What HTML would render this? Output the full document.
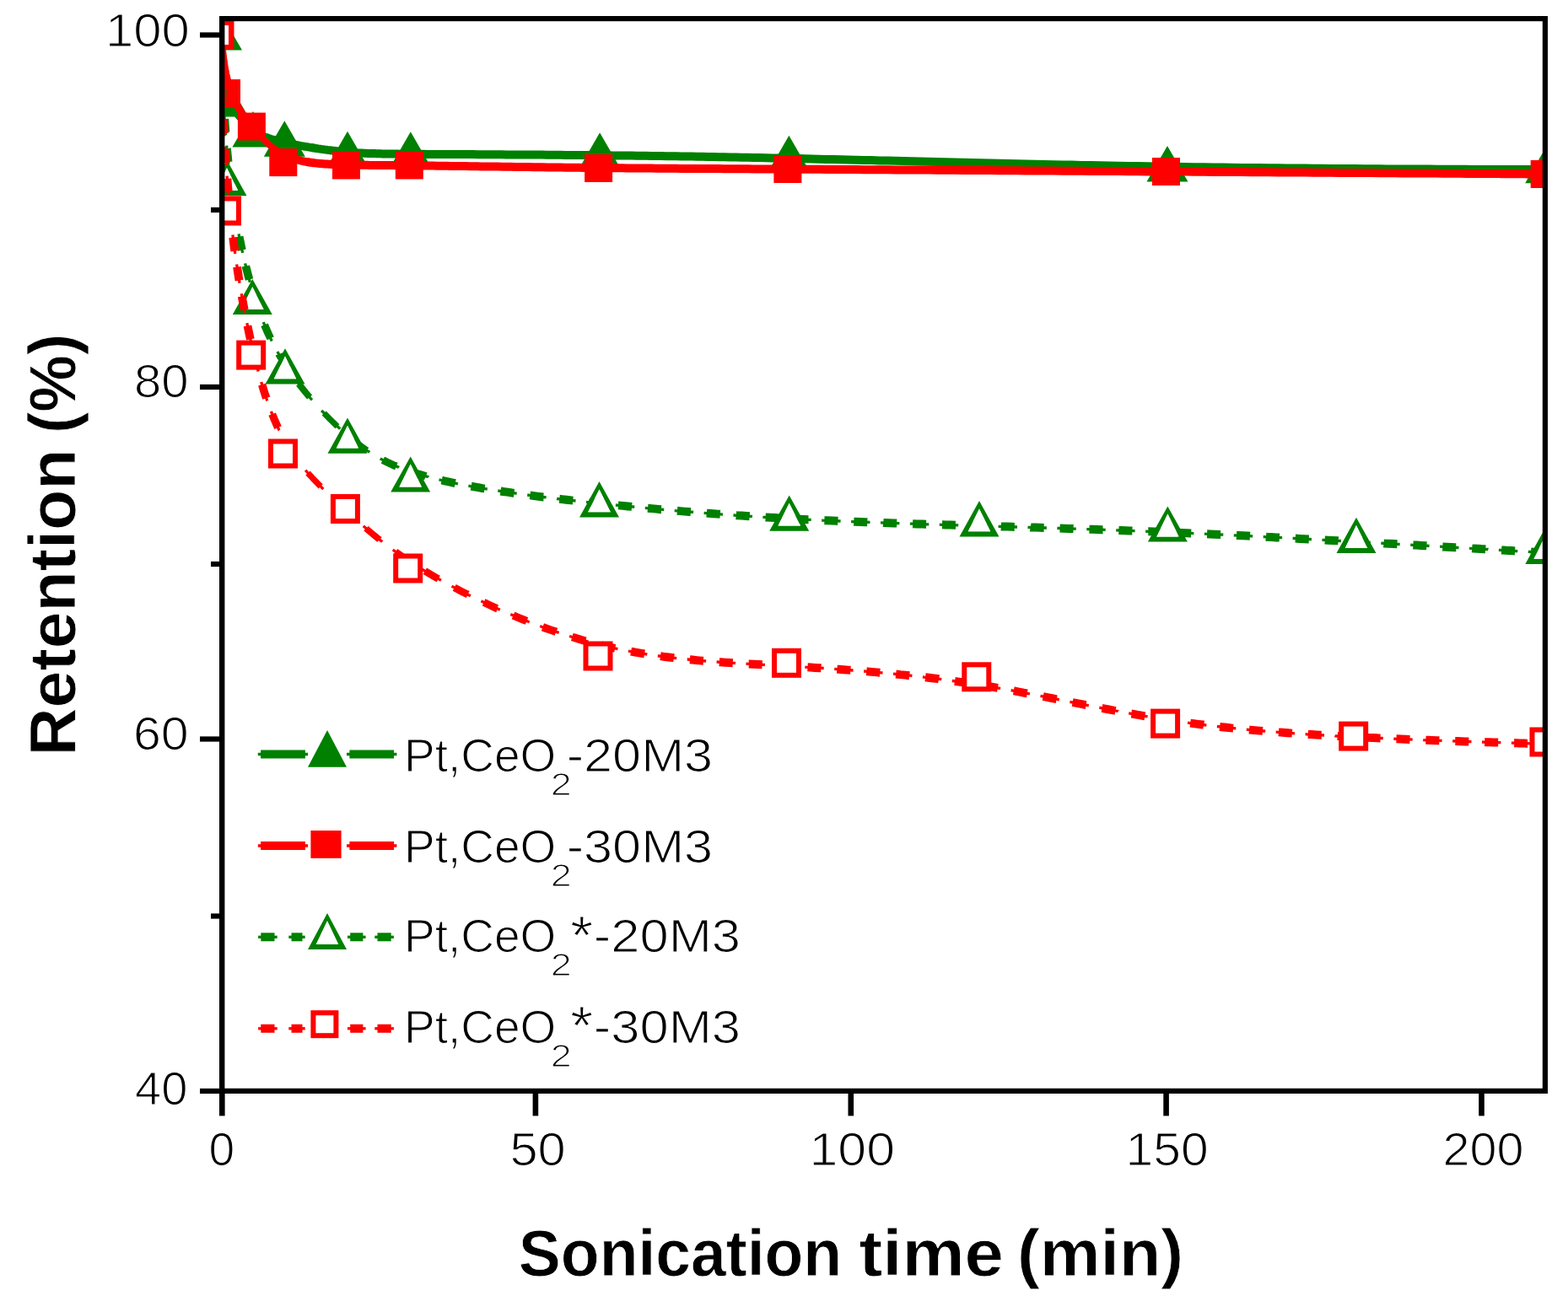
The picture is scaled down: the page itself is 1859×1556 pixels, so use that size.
<!DOCTYPE html>
<html><head><meta charset="utf-8"><title>Retention vs sonication time</title>
<style>
html,body{margin:0;padding:0;background:#fff;}
svg{display:block;}
text{font-family:"Liberation Sans",Arial,sans-serif;fill:#000;stroke:#fff;stroke-width:1.2px;}
.b{font-weight:bold;stroke-width:0.8px;}
</style></head><body>
<svg width="1859" height="1556" viewBox="0 0 1859 1556">
<rect width="1859" height="1556" fill="#fff"/>
<defs><clipPath id="pa"><rect x="263.2" y="22" width="1568.7" height="1271.9"/></clipPath></defs>
<g clip-path="url(#pa)">
<path d="M261.0,43.6L261.0,43.7L261.0,43.7L261.0,43.8L261.0,43.9L261.0,44.0L261.0,44.1L261.1,44.2L261.1,44.3L261.1,44.4L261.1,44.6L261.1,44.8L261.1,45.0L261.2,45.2L261.2,45.5L261.2,45.8L261.2,46.1L261.3,46.4L261.3,46.8L261.3,47.2L261.4,47.6L261.4,48.1L261.5,48.6L261.5,49.1L261.6,49.7L261.6,50.3L261.7,51.0L261.8,51.7L261.8,52.4L261.9,53.2L262.0,54.0L262.1,54.9L262.2,55.8L262.2,56.8L262.3,57.8L262.4,58.8L262.5,59.9L262.7,61.1L262.8,62.3L262.9,63.5L263.0,64.8L263.2,66.1L263.3,67.4L263.5,68.8L263.6,70.2L263.8,71.6L263.9,73.0L264.1,74.5L264.3,76.0L264.5,77.5L264.7,79.1L264.9,80.6L265.1,82.2L265.4,83.8L265.6,85.4L265.8,87.0" stroke="#008000" stroke-width="10.00" stroke-linecap="round" stroke-linejoin="round" fill="none"/><path d="M265.8,87.0L266.1,88.6L266.4,90.2L266.7,91.9L266.9,93.5L267.2,95.1L267.5,96.7L267.9,98.3L268.2,100.0L268.5,101.6L268.9,103.2L269.3,104.7L269.7,106.3L270.0,107.9L270.5,109.4L270.9,110.9" stroke="#008000" stroke-width="9.75" stroke-linecap="round" stroke-linejoin="round" fill="none"/><path d="M270.9,110.9L271.3,112.4L271.8,113.9L272.2,115.3L272.7,116.8L273.2,118.1L273.7,119.5" stroke="#008000" stroke-width="9.50" stroke-linecap="round" stroke-linejoin="round" fill="none"/><path d="M273.7,119.5L274.2,120.9L274.7,122.2L275.3,123.5L275.8,124.7" stroke="#008000" stroke-width="9.25" stroke-linecap="round" stroke-linejoin="round" fill="none"/><path d="M275.8,124.7L276.4,126.0L277.0,127.2L277.6,128.4L278.2,129.6" stroke="#008000" stroke-width="9.00" stroke-linecap="round" stroke-linejoin="round" fill="none"/><path d="M278.2,129.6L278.8,130.7L279.4,131.8L280.0,132.9" stroke="#008000" stroke-width="8.75" stroke-linecap="round" stroke-linejoin="round" fill="none"/><path d="M280.0,132.9L280.7,134.0L281.3,135.1L282.0,136.1" stroke="#008000" stroke-width="8.50" stroke-linecap="round" stroke-linejoin="round" fill="none"/><path d="M282.0,136.1L282.7,137.1L283.4,138.1" stroke="#008000" stroke-width="8.25" stroke-linecap="round" stroke-linejoin="round" fill="none"/><path d="M283.4,138.1L284.1,139.0L284.8,140.0L285.5,140.9" stroke="#008000" stroke-width="8.00" stroke-linecap="round" stroke-linejoin="round" fill="none"/><path d="M285.5,140.9L286.2,141.8L286.9,142.7" stroke="#008000" stroke-width="7.75" stroke-linecap="round" stroke-linejoin="round" fill="none"/><path d="M286.9,142.7L287.7,143.6L288.4,144.4" stroke="#008000" stroke-width="7.50" stroke-linecap="round" stroke-linejoin="round" fill="none"/><path d="M288.4,144.4L289.2,145.2L289.9,146.0L290.7,146.8" stroke="#008000" stroke-width="7.25" stroke-linecap="round" stroke-linejoin="round" fill="none"/><path d="M290.7,146.8L291.5,147.6" stroke="#008000" stroke-width="7.00" stroke-linecap="round" stroke-linejoin="round" fill="none"/><path d="M291.5,147.6L292.3,148.3L293.1,149.1" stroke="#008000" stroke-width="7.25" stroke-linecap="round" stroke-linejoin="round" fill="none"/><path d="M293.1,149.1L293.9,149.8L294.7,150.5" stroke="#008000" stroke-width="7.50" stroke-linecap="round" stroke-linejoin="round" fill="none"/><path d="M294.7,150.5L295.5,151.2L296.3,151.8L297.1,152.5" stroke="#008000" stroke-width="7.75" stroke-linecap="round" stroke-linejoin="round" fill="none"/><path d="M297.1,152.5L298.0,153.1L298.8,153.7" stroke="#008000" stroke-width="8.00" stroke-linecap="round" stroke-linejoin="round" fill="none"/><path d="M298.8,153.7L299.6,154.3L300.5,154.9L301.3,155.5" stroke="#008000" stroke-width="8.25" stroke-linecap="round" stroke-linejoin="round" fill="none"/><path d="M301.3,155.5L302.2,156.0L303.0,156.6L303.9,157.1L304.8,157.6" stroke="#008000" stroke-width="8.50" stroke-linecap="round" stroke-linejoin="round" fill="none"/><path d="M304.8,157.6L305.7,158.1L306.5,158.6L307.4,159.1" stroke="#008000" stroke-width="8.75" stroke-linecap="round" stroke-linejoin="round" fill="none"/><path d="M307.4,159.1L308.4,159.5L309.3,160.0L310.2,160.4L311.1,160.9" stroke="#008000" stroke-width="9.00" stroke-linecap="round" stroke-linejoin="round" fill="none"/><path d="M311.1,160.9L312.1,161.3L313.0,161.7L314.0,162.1L315.0,162.5L316.0,162.9L317.0,163.2" stroke="#008000" stroke-width="9.25" stroke-linecap="round" stroke-linejoin="round" fill="none"/><path d="M317.0,163.2L318.0,163.6L319.0,164.0L320.1,164.3L321.2,164.7L322.2,165.0L323.3,165.4L324.4,165.7L325.6,166.0" stroke="#008000" stroke-width="9.50" stroke-linecap="round" stroke-linejoin="round" fill="none"/><path d="M325.6,166.0L326.7,166.3L327.9,166.6L329.1,167.0L330.3,167.3L331.5,167.6L332.7,167.9L334.0,168.2L335.3,168.5L336.6,168.8L337.9,169.1L339.2,169.4L340.6,169.7L342.0,170.0L343.4,170.3L344.9,170.6L346.3,170.9L347.8,171.2L349.3,171.5L350.8,171.8L352.4,172.1L353.9,172.4L355.5,172.7L357.1,173.0L358.7,173.3L360.3,173.6L362.0,173.9L363.7,174.1L365.3,174.4L367.0,174.7L368.7,175.0L370.5,175.3" stroke="#008000" stroke-width="9.75" stroke-linecap="round" stroke-linejoin="round" fill="none"/><path d="M370.5,175.3L372.2,175.5L373.9,175.8L375.7,176.1L377.5,176.4L379.2,176.6L381.0,176.9L382.8,177.1L384.6,177.4L386.5,177.6L388.3,177.9L390.1,178.1L391.9,178.3L393.8,178.6L395.6,178.8L397.5,179.0L399.3,179.2L401.2,179.4L403.1,179.6L404.9,179.8L406.8,180.0L408.7,180.1L410.5,180.3L412.4,180.5L414.3,180.6L416.2,180.8L418.0,180.9L419.9,181.0L421.8,181.1L423.8,181.3L425.7,181.4L427.6,181.5L429.6,181.6L431.6,181.7L433.6,181.8L435.7,181.9L437.8,181.9L439.9,182.0L442.0,182.1L444.2,182.1L446.5,182.2L448.7,182.3L451.0,182.3L453.4,182.4L455.8,182.4L458.3,182.4L460.8,182.5L463.4,182.5L466.0,182.6L468.7,182.6L471.4,182.6L474.2,182.7L477.1,182.7L480.1,182.7L483.1,182.7L486.2,182.7L489.4,182.8L492.7,182.8L496.0,182.8L499.4,182.8L502.9,182.8L506.5,182.9L510.2,182.9L514.0,182.9L517.9,182.9L521.9,182.9L525.9,183.0L530.0,183.0L534.3,183.0L538.6,183.0L542.9,183.0L547.4,183.1L551.9,183.1L556.5,183.1L561.2,183.1L565.9,183.2L570.7,183.2L575.5,183.2L580.4,183.2L585.4,183.3L590.4,183.3L595.5,183.3L600.6,183.4L605.7,183.4L611.0,183.4L616.2,183.5L621.5,183.5L626.8,183.5L632.2,183.6L637.6,183.6L643.0,183.6L648.5,183.7L653.9,183.7L659.4,183.8L665.0,183.8L670.5,183.9L676.1,183.9L681.6,183.9L687.2,184.0L692.8,184.0L698.4,184.1L704.0,184.1L709.6,184.2L715.2,184.3L720.8,184.3L726.5,184.4L732.1,184.4L737.7,184.5L743.4,184.6L749.1,184.6L754.8,184.7L760.5,184.8L766.3,184.8L772.1,184.9L777.9,185.0L783.8,185.1L789.7,185.2L795.7,185.2L801.7,185.3L807.8,185.4L814.0,185.5L820.2,185.6L826.4,185.7L832.8,185.8L839.2,186.0L845.7,186.1L852.3,186.2L858.9,186.3L865.7,186.4L872.5,186.6L879.5,186.7L886.5,186.8L893.6,187.0L900.9,187.1L908.2,187.3L915.7,187.4L923.2,187.6L930.9,187.8L938.8,187.9L946.7,188.1L954.8,188.3L963.0,188.5L971.3,188.7L979.8,188.9L988.4,189.1L997.2,189.3L1006.0,189.5L1015.1,189.7L1024.2,189.9L1033.4,190.1L1042.8,190.4L1052.3,190.6L1061.9,190.8L1071.5,191.1L1081.3,191.3L1091.2,191.6L1101.2,191.8L1111.3,192.0L1121.5,192.3L1131.7,192.5L1142.0,192.8L1152.4,193.0L1162.9,193.3L1173.5,193.5L1184.1,193.8L1194.8,194.0L1205.5,194.2L1216.3,194.5L1227.1,194.7L1238.0,195.0L1249.0,195.2L1260.0,195.4L1271.0,195.6L1282.0,195.9L1293.1,196.1L1304.2,196.3L1315.4,196.5L1326.5,196.7L1337.7,196.9L1348.9,197.1L1360.1,197.3L1371.3,197.5L1382.5,197.7L1393.8,197.8L1405.0,198.0L1416.2,198.2L1427.3,198.3L1438.5,198.5L1449.6,198.6L1460.7,198.7L1471.7,198.9L1482.6,199.0L1493.5,199.1L1504.4,199.2L1515.1,199.3L1525.8,199.4L1536.4,199.5L1546.8,199.6L1557.2,199.7L1567.5,199.8L1577.6,199.9L1587.6,200.0L1597.5,200.0L1607.3,200.1L1616.9,200.2L1626.3,200.2L1635.6,200.3L1644.7,200.4L1653.6,200.4L1662.4,200.5L1670.9,200.5L1679.3,200.6L1687.5,200.6L1695.4,200.6L1703.2,200.7L1710.7,200.7L1718.0,200.7L1725.0,200.8L1731.8,200.8L1738.3,200.8L1744.6,200.9L1750.7,200.9L1756.4,200.9L1761.9,200.9L1767.1,200.9L1772.0,201.0L1776.7,201.0L1781.1,201.0L1785.3,201.0L1789.2,201.0L1792.9,201.0L1796.4,201.1L1799.6,201.1L1802.7,201.1L1805.5,201.1L1808.2,201.1L1810.6,201.1L1812.9,201.1L1815.0,201.1L1817.0,201.1L1818.7,201.2L1820.4,201.2L1821.8,201.2L1823.2,201.2L1824.4,201.2L1825.4,201.2L1826.4,201.2L1827.2,201.2L1828.0,201.2L1828.6,201.2L1829.2,201.2L1829.6,201.2L1830.0,201.2L1830.3,201.2L1830.6,201.2L1830.8,201.2L1830.9,201.2L1831.0,201.2L1831.1,201.2L1831.2,201.2" stroke="#008000" stroke-width="10.00" stroke-linecap="round" stroke-linejoin="round" fill="none"/>
<path d="M262.5,17.1L287.0,59.6L238.0,59.6Z" fill="#008000"/>
<path d="M270.0,96.0L294.5,138.5L245.5,138.5Z" fill="#008000"/>
<path d="M299.9,131.9L324.4,174.4L275.4,174.4Z" fill="#008000"/>
<path d="M337.3,143.3L361.8,185.8L312.8,185.8Z" fill="#008000"/>
<path d="M412.0,155.8L436.5,198.3L387.5,198.3Z" fill="#008000"/>
<path d="M486.8,156.3L511.3,198.8L462.3,198.8Z" fill="#008000"/>
<path d="M711.1,157.3L735.6,199.8L686.6,199.8Z" fill="#008000"/>
<path d="M935.4,160.7L959.9,203.2L910.9,203.2Z" fill="#008000"/>
<path d="M1384.0,172.9L1408.5,215.4L1359.5,215.4Z" fill="#008000"/>
<path d="M1832.7,174.7L1857.2,217.2L1808.2,217.2Z" fill="#008000"/>
<path d="M261.0,41.5L261.0,41.6L261.0,41.6L261.0,41.7L261.0,41.8L261.0,41.9L261.1,42.0L261.1,42.1L261.1,42.2L261.1,42.4L261.1,42.5L261.1,42.7L261.2,42.9L261.2,43.2L261.2,43.4L261.2,43.7L261.3,44.0L261.3,44.3L261.3,44.7L261.4,45.0L261.4,45.5L261.5,45.9L261.5,46.4L261.6,46.9L261.6,47.4L261.7,48.0L261.8,48.6L261.8,49.2L261.9,49.9L262.0,50.6L262.1,51.4L262.2,52.2L262.2,53.0L262.3,53.9L262.4,54.8L262.5,55.8L262.7,56.8L262.8,57.8L262.9,58.9L263.0,60.0L263.2,61.2L263.3,62.4L263.5,63.6L263.6,64.8L263.8,66.0L263.9,67.3L264.1,68.6L264.3,70.0L264.5,71.3L264.7,72.7L264.9,74.1L265.1,75.5" stroke="#ff0000" stroke-width="10.00" stroke-linecap="round" stroke-linejoin="round" fill="none"/><path d="M265.1,75.5L265.4,76.9L265.6,78.3L265.8,79.7L266.1,81.2L266.4,82.6L266.7,84.1L266.9,85.6L267.2,87.0L267.5,88.5L267.9,90.0L268.2,91.4L268.5,92.9L268.9,94.3L269.3,95.8L269.7,97.2L270.0,98.7" stroke="#ff0000" stroke-width="9.75" stroke-linecap="round" stroke-linejoin="round" fill="none"/><path d="M270.0,98.7L270.5,100.1L270.9,101.5L271.3,102.9L271.8,104.3L272.2,105.7L272.7,107.0L273.2,108.3" stroke="#ff0000" stroke-width="9.50" stroke-linecap="round" stroke-linejoin="round" fill="none"/><path d="M273.2,108.3L273.7,109.7L274.2,111.0L274.7,112.2L275.3,113.5L275.8,114.7" stroke="#ff0000" stroke-width="9.25" stroke-linecap="round" stroke-linejoin="round" fill="none"/><path d="M275.8,114.7L276.4,116.0L277.0,117.2L277.6,118.4L278.2,119.6" stroke="#ff0000" stroke-width="9.00" stroke-linecap="round" stroke-linejoin="round" fill="none"/><path d="M278.2,119.6L278.8,120.8L279.4,121.9L280.0,123.1L280.7,124.2L281.3,125.4" stroke="#ff0000" stroke-width="8.75" stroke-linecap="round" stroke-linejoin="round" fill="none"/><path d="M281.3,125.4L282.0,126.5L282.7,127.6L283.4,128.7L284.1,129.8L284.8,130.9" stroke="#ff0000" stroke-width="8.50" stroke-linecap="round" stroke-linejoin="round" fill="none"/><path d="M284.8,130.9L285.5,132.0L286.2,133.0L286.9,134.1L287.7,135.1L288.4,136.2" stroke="#ff0000" stroke-width="8.25" stroke-linecap="round" stroke-linejoin="round" fill="none"/><path d="M288.4,136.2L289.2,137.2L289.9,138.3L290.7,139.3L291.5,140.4L292.3,141.4L293.1,142.4L293.9,143.4" stroke="#ff0000" stroke-width="8.00" stroke-linecap="round" stroke-linejoin="round" fill="none"/><path d="M293.9,143.4L294.7,144.5L295.5,145.5L296.3,146.5L297.1,147.5L298.0,148.6L298.8,149.6L299.6,150.6L300.5,151.6L301.3,152.7L302.2,153.7L303.0,154.7L303.9,155.7" stroke="#ff0000" stroke-width="7.75" stroke-linecap="round" stroke-linejoin="round" fill="none"/><path d="M303.9,155.7L304.8,156.8L305.7,157.8L306.5,158.8L307.4,159.8L308.4,160.8L309.3,161.8" stroke="#ff0000" stroke-width="7.50" stroke-linecap="round" stroke-linejoin="round" fill="none"/><path d="M309.3,161.8L310.2,162.8L311.1,163.8L312.1,164.8L313.0,165.8" stroke="#ff0000" stroke-width="7.25" stroke-linecap="round" stroke-linejoin="round" fill="none"/><path d="M313.0,165.8L314.0,166.8" stroke="#ff0000" stroke-width="7.00" stroke-linecap="round" stroke-linejoin="round" fill="none"/><path d="M314.0,166.8L315.0,167.8L316.0,168.7L317.0,169.7L318.0,170.6" stroke="#ff0000" stroke-width="7.25" stroke-linecap="round" stroke-linejoin="round" fill="none"/><path d="M318.0,170.6L319.0,171.5L320.1,172.4" stroke="#ff0000" stroke-width="7.50" stroke-linecap="round" stroke-linejoin="round" fill="none"/><path d="M320.1,172.4L321.2,173.3L322.2,174.2L323.3,175.1" stroke="#ff0000" stroke-width="7.75" stroke-linecap="round" stroke-linejoin="round" fill="none"/><path d="M323.3,175.1L324.4,176.0L325.6,176.8L326.7,177.6" stroke="#ff0000" stroke-width="8.00" stroke-linecap="round" stroke-linejoin="round" fill="none"/><path d="M326.7,177.6L327.9,178.4L329.1,179.2" stroke="#ff0000" stroke-width="8.25" stroke-linecap="round" stroke-linejoin="round" fill="none"/><path d="M329.1,179.2L330.3,180.0L331.5,180.8L332.7,181.5" stroke="#ff0000" stroke-width="8.50" stroke-linecap="round" stroke-linejoin="round" fill="none"/><path d="M332.7,181.5L334.0,182.2L335.3,182.9L336.6,183.6" stroke="#ff0000" stroke-width="8.75" stroke-linecap="round" stroke-linejoin="round" fill="none"/><path d="M336.6,183.6L337.9,184.3L339.2,184.9" stroke="#ff0000" stroke-width="9.00" stroke-linecap="round" stroke-linejoin="round" fill="none"/><path d="M339.2,184.9L340.6,185.5L342.0,186.1L343.4,186.6L344.9,187.2" stroke="#ff0000" stroke-width="9.25" stroke-linecap="round" stroke-linejoin="round" fill="none"/><path d="M344.9,187.2L346.3,187.7L347.8,188.2L349.3,188.7L350.8,189.1" stroke="#ff0000" stroke-width="9.50" stroke-linecap="round" stroke-linejoin="round" fill="none"/><path d="M350.8,189.1L352.4,189.5L353.9,189.9L355.5,190.3L357.1,190.7L358.7,191.0L360.3,191.4L362.0,191.7L363.7,192.0L365.3,192.3" stroke="#ff0000" stroke-width="9.75" stroke-linecap="round" stroke-linejoin="round" fill="none"/><path d="M365.3,192.3L367.0,192.5L368.7,192.8L370.5,193.0L372.2,193.2L373.9,193.4L375.7,193.6L377.5,193.8L379.2,193.9L381.0,194.1L382.8,194.2L384.6,194.4L386.5,194.5L388.3,194.6L390.1,194.7L391.9,194.8L393.8,194.9L395.6,195.0L397.5,195.1L399.3,195.1L401.2,195.2L403.1,195.2L404.9,195.3L406.8,195.3L408.7,195.4L410.5,195.4L412.4,195.5L414.3,195.5L416.2,195.6L418.0,195.6L419.9,195.6L421.8,195.7L423.8,195.7L425.7,195.7L427.6,195.7L429.6,195.8L431.6,195.8L433.6,195.8L435.7,195.8L437.8,195.9L439.9,195.9L442.0,195.9L444.2,195.9L446.5,196.0L448.7,196.0L451.0,196.0L453.4,196.0L455.8,196.0L458.3,196.1L460.8,196.1L463.4,196.1L466.0,196.1L468.7,196.2L471.4,196.2L474.2,196.2L477.1,196.2L480.1,196.3L483.1,196.3L486.2,196.3L489.4,196.4L492.7,196.4L496.0,196.4L499.4,196.5L502.9,196.5L506.5,196.5L510.2,196.6L514.0,196.6L517.9,196.7L521.9,196.7L525.9,196.8L530.0,196.8L534.3,196.9L538.6,196.9L542.9,197.0L547.4,197.1L551.9,197.1L556.5,197.2L561.2,197.2L565.9,197.3L570.7,197.4L575.5,197.4L580.4,197.5L585.4,197.6L590.4,197.6L595.5,197.7L600.6,197.8L605.7,197.8L611.0,197.9L616.2,198.0L621.5,198.0L626.8,198.1L632.2,198.2L637.6,198.3L643.0,198.3L648.5,198.4L653.9,198.5L659.4,198.5L665.0,198.6L670.5,198.7L676.1,198.7L681.6,198.8L687.2,198.8L692.8,198.9L698.4,199.0L704.0,199.0L709.6,199.1L715.2,199.1L720.8,199.2L726.5,199.2L732.1,199.3L737.7,199.3L743.4,199.4L749.1,199.4L754.8,199.5L760.5,199.5L766.3,199.6L772.1,199.6L777.9,199.7L783.8,199.7L789.7,199.7L795.7,199.8L801.7,199.8L807.8,199.9L814.0,199.9L820.2,200.0L826.4,200.0L832.8,200.0L839.2,200.1L845.7,200.1L852.3,200.1L858.9,200.2L865.7,200.2L872.5,200.3L879.5,200.3L886.5,200.3L893.6,200.4L900.9,200.4L908.2,200.5L915.7,200.5L923.2,200.6L930.9,200.6L938.8,200.6L946.7,200.7L954.8,200.7L963.0,200.8L971.3,200.8L979.8,200.9L988.4,200.9L997.2,201.0L1006.0,201.0L1015.1,201.1L1024.2,201.2L1033.4,201.2L1042.8,201.3L1052.3,201.3L1061.9,201.4L1071.5,201.5L1081.3,201.5L1091.2,201.6L1101.2,201.6L1111.3,201.7L1121.5,201.8L1131.7,201.8L1142.0,201.9L1152.4,202.0L1162.9,202.0L1173.5,202.1L1184.1,202.2L1194.8,202.3L1205.5,202.3L1216.3,202.4L1227.1,202.5L1238.0,202.5L1249.0,202.6L1260.0,202.7L1271.0,202.8L1282.0,202.8L1293.1,202.9L1304.2,203.0L1315.4,203.1L1326.5,203.1L1337.7,203.2L1348.9,203.3L1360.1,203.4L1371.3,203.4L1382.5,203.5L1393.8,203.6L1405.0,203.6L1416.2,203.7L1427.3,203.8L1438.5,203.9L1449.6,203.9L1460.7,204.0L1471.7,204.1L1482.6,204.2L1493.5,204.2L1504.4,204.3L1515.1,204.4L1525.8,204.5L1536.4,204.5L1546.8,204.6L1557.2,204.7L1567.5,204.7L1577.6,204.8L1587.6,204.9L1597.5,204.9L1607.3,205.0L1616.9,205.1L1626.3,205.1L1635.6,205.2L1644.7,205.3L1653.6,205.3L1662.4,205.4L1670.9,205.4L1679.3,205.5L1687.5,205.5L1695.4,205.6L1703.2,205.6L1710.7,205.7L1718.0,205.7L1725.0,205.8L1731.8,205.8L1738.3,205.9L1744.6,205.9L1750.7,206.0L1756.4,206.0L1761.9,206.0L1767.1,206.1L1772.0,206.1L1776.7,206.1L1781.1,206.2L1785.3,206.2L1789.2,206.2L1792.9,206.2L1796.4,206.3L1799.6,206.3L1802.7,206.3L1805.5,206.3L1808.2,206.3L1810.6,206.4L1812.9,206.4L1815.0,206.4L1817.0,206.4L1818.7,206.4L1820.4,206.4L1821.8,206.4L1823.2,206.4L1824.4,206.5L1825.4,206.5L1826.4,206.5L1827.2,206.5L1828.0,206.5L1828.6,206.5L1829.2,206.5L1829.6,206.5L1830.0,206.5L1830.3,206.5L1830.6,206.5L1830.8,206.5L1830.9,206.5L1831.0,206.5L1831.1,206.5L1831.2,206.5" stroke="#ff0000" stroke-width="10.00" stroke-linecap="round" stroke-linejoin="round" fill="none"/>
<rect x="244.5" y="25.0" width="33" height="33" fill="#ff0000"/>
<rect x="252.0" y="94.1" width="33" height="33" fill="#ff0000"/>
<rect x="281.9" y="133.6" width="33" height="33" fill="#ff0000"/>
<rect x="319.3" y="176.1" width="33" height="33" fill="#ff0000"/>
<rect x="394.0" y="179.5" width="33" height="33" fill="#ff0000"/>
<rect x="468.8" y="179.5" width="33" height="33" fill="#ff0000"/>
<rect x="693.1" y="183.0" width="33" height="33" fill="#ff0000"/>
<rect x="917.4" y="184.0" width="33" height="33" fill="#ff0000"/>
<rect x="1366.0" y="187.0" width="33" height="33" fill="#ff0000"/>
<rect x="1814.7" y="190.0" width="33" height="33" fill="#ff0000"/>
<path d="M262.3,71.2L262.4,73.2L262.5,75.5L262.7,78.0L262.8,80.6L262.9,83.3L263.0,86.0L263.1,87.2" stroke="#008000" stroke-width="9.99" fill="none"/><path d="M262.2,68.0L262.2,68.8L262.3,70.9L262.4,73.2L262.5,75.5L262.7,78.0L262.8,80.6L262.9,83.3L263.0,86.0L263.2,88.9L263.2,90.4" stroke="#008000" stroke-width="3.30" fill="none"/><path d="M264.1,106.1L264.1,107.7L264.3,111.1L264.5,114.6L264.7,118.1L264.9,121.7L265.0,122.1" stroke="#008000" stroke-width="9.98" fill="none"/><path d="M263.9,102.9L264.0,104.4L264.1,107.7L264.3,111.1L264.5,114.6L264.7,118.1L264.9,121.7L265.2,125.3L265.2,125.3" stroke="#008000" stroke-width="3.30" fill="none"/><path d="M266.2,141.0L266.4,144.1L266.7,148.0L267.0,151.9L267.3,155.9L267.4,157.0" stroke="#008000" stroke-width="9.97" fill="none"/><path d="M266.0,137.8L266.1,140.3L266.4,144.1L266.7,148.0L267.0,151.9L267.3,155.9L267.6,159.8L267.6,160.2" stroke="#008000" stroke-width="3.30" fill="none"/><path d="M268.9,175.9L269.3,179.9L269.7,183.9L270.1,188.0L270.5,191.9" stroke="#008000" stroke-width="9.95" fill="none"/><path d="M268.7,172.7L268.9,175.9L269.3,179.9L269.7,183.9L270.1,188.0L270.5,192.0L270.8,195.1" stroke="#008000" stroke-width="3.30" fill="none"/><path d="M272.6,210.8L272.7,212.1L273.2,216.0L273.7,220.0L274.2,223.9L274.6,226.8" stroke="#008000" stroke-width="9.92" fill="none"/><path d="M272.2,207.6L272.2,208.1L272.7,212.1L273.2,216.0L273.7,220.0L274.2,223.9L274.7,227.8L275.1,230.0" stroke="#008000" stroke-width="3.30" fill="none"/><path d="M277.4,245.7L277.6,246.9L278.2,250.6L278.8,254.3L279.4,258.0L280.0,261.7L280.0,261.7" stroke="#008000" stroke-width="9.86" fill="none"/><path d="M276.9,242.5L277.0,243.1L277.6,246.9L278.2,250.6L278.8,254.3L279.4,258.0L280.0,261.7L280.6,264.9" stroke="#008000" stroke-width="3.30" fill="none"/><path d="M283.6,280.6L284.1,283.1L284.8,286.5L285.5,290.0L286.2,293.4L286.9,296.6" stroke="#008000" stroke-width="9.79" fill="none"/><path d="M283.0,277.4L283.4,279.6L284.1,283.1L284.8,286.5L285.5,290.0L286.2,293.4L287.0,296.8L287.7,299.8" stroke="#008000" stroke-width="3.30" fill="none"/><path d="M291.4,315.5L291.6,316.4L292.4,319.5L293.2,322.7L294.0,325.7L294.8,328.8L295.5,331.5" stroke="#008000" stroke-width="9.68" fill="none"/><path d="M290.6,312.3L290.8,313.2L291.6,316.4L292.4,319.5L293.2,322.7L294.0,325.7L294.8,328.8L295.6,331.8L296.4,334.7" stroke="#008000" stroke-width="3.30" fill="none"/><path d="M301.1,350.4L301.6,352.0L302.4,354.7L303.3,357.4L304.2,360.1L305.1,362.7L306.0,365.3L306.4,366.4" stroke="#008000" stroke-width="9.49" fill="none"/><path d="M300.1,347.2L300.7,349.2L301.6,352.0L302.4,354.7L303.3,357.4L304.2,360.1L305.1,362.7L306.0,365.3L306.9,367.9L307.5,369.6" stroke="#008000" stroke-width="3.30" fill="none"/><path d="M313.6,385.3L314.5,387.5L315.5,389.8L316.5,392.1L317.5,394.4L318.5,396.6L319.6,398.9L320.6,401.1L320.7,401.3" stroke="#008000" stroke-width="9.13" fill="none"/><path d="M312.3,382.1L312.5,382.7L313.5,385.1L314.5,387.5L315.5,389.8L316.5,392.1L317.5,394.4L318.5,396.6L319.6,398.9L320.6,401.1L321.7,403.3L322.3,404.5" stroke="#008000" stroke-width="3.30" fill="none"/><path d="M330.7,420.2L330.8,420.5L332.0,422.5L333.3,424.6L334.5,426.7L335.8,428.8L337.1,430.8L338.4,432.9L339.8,434.9L340.6,436.2" stroke="#008000" stroke-width="8.50" fill="none"/><path d="M328.9,417.0L329.6,418.4L330.8,420.5L332.0,422.5L333.3,424.6L334.5,426.7L335.8,428.8L337.1,430.8L338.4,432.9L339.8,434.9L341.1,437.0L342.5,439.0L342.8,439.4" stroke="#008000" stroke-width="3.30" fill="none"/><path d="M354.1,455.1L354.3,455.2L355.8,457.3L357.4,459.3L359.0,461.3L360.6,463.3L362.2,465.3L363.9,467.3L365.5,469.2L367.1,471.1" stroke="#008000" stroke-width="7.77" fill="none"/><path d="M351.7,451.9L352.7,453.2L354.3,455.2L355.8,457.3L357.4,459.3L359.0,461.3L360.6,463.3L362.2,465.3L363.9,467.3L365.5,469.2L367.2,471.2L368.9,473.2L369.9,474.3" stroke="#008000" stroke-width="3.30" fill="none"/><path d="M384.2,490.0L384.6,490.4L386.4,492.2L388.2,494.1L390.0,495.9L391.8,497.7L393.6,499.5L395.5,501.3L397.3,503.1L399.1,504.8L400.1,505.7" stroke="#008000" stroke-width="7.11" fill="none"/><path d="M381.2,486.8L382.8,488.5L384.6,490.4L386.4,492.2L388.2,494.1L390.0,495.9L391.8,497.7L393.6,499.5L395.5,501.3L397.3,503.1L399.1,504.8L401.0,506.5L402.8,508.2L403.3,508.7" stroke="#008000" stroke-width="3.30" fill="none"/><path d="M419.0,522.3L419.6,522.8L421.5,524.3L423.4,525.8L425.3,527.3L427.2,528.7L429.1,530.2L431.1,531.6L433.1,533.0L435.0,534.3" stroke="#008000" stroke-width="8.01" fill="none"/><path d="M415.8,519.7L415.8,519.7L417.7,521.2L419.6,522.8L421.5,524.3L423.4,525.8L425.3,527.3L427.2,528.7L429.1,530.2L431.1,531.6L433.1,533.0L435.1,534.4L437.2,535.7L438.2,536.4" stroke="#008000" stroke-width="3.30" fill="none"/><path d="M453.9,545.6L454.8,546.1L457.2,547.3L459.7,548.5L462.2,549.7L464.8,550.8L467.4,552.0L469.9,553.0" stroke="#008000" stroke-width="9.06" fill="none"/><path d="M450.7,543.9L452.5,544.8L454.8,546.1L457.2,547.3L459.7,548.5L462.2,549.7L464.8,550.8L467.4,552.0L470.1,553.1L472.8,554.2L473.1,554.4" stroke="#008000" stroke-width="3.30" fill="none"/><path d="M488.8,560.1L490.8,560.7L494.0,561.7L497.3,562.7L500.8,563.7L504.3,564.7L504.8,564.9" stroke="#008000" stroke-width="9.57" fill="none"/><path d="M485.6,559.0L487.6,559.7L490.8,560.7L494.0,561.7L497.3,562.7L500.8,563.7L504.3,564.7L507.9,565.7L508.0,565.8" stroke="#008000" stroke-width="3.30" fill="none"/><path d="M523.7,569.6L527.2,570.4L531.3,571.3L535.5,572.2L539.7,573.1" stroke="#008000" stroke-width="9.77" fill="none"/><path d="M520.5,568.9L523.2,569.5L527.2,570.4L531.3,571.3L535.5,572.2L539.8,573.1L542.9,573.8" stroke="#008000" stroke-width="3.30" fill="none"/><path d="M558.6,576.7L562.4,577.4L567.1,578.2L571.9,579.1L574.6,579.5" stroke="#008000" stroke-width="9.85" fill="none"/><path d="M555.4,576.1L557.7,576.6L562.4,577.4L567.1,578.2L571.9,579.1L576.7,579.9L577.8,580.0" stroke="#008000" stroke-width="3.30" fill="none"/><path d="M593.5,582.5L596.6,583.0L601.7,583.7L606.9,584.5L609.5,584.8" stroke="#008000" stroke-width="9.89" fill="none"/><path d="M590.3,582.0L591.6,582.2L596.6,583.0L601.7,583.7L606.9,584.5L612.1,585.2L612.7,585.3" stroke="#008000" stroke-width="3.30" fill="none"/><path d="M628.4,587.4L633.3,588.1L638.7,588.8L644.1,589.5L644.4,589.5" stroke="#008000" stroke-width="9.92" fill="none"/><path d="M625.2,587.0L627.9,587.4L633.3,588.1L638.7,588.8L644.1,589.5L647.6,589.9" stroke="#008000" stroke-width="3.30" fill="none"/><path d="M663.3,591.8L666.1,592.1L671.6,592.8L677.2,593.4L679.3,593.6" stroke="#008000" stroke-width="9.93" fill="none"/><path d="M660.1,591.4L660.5,591.5L666.1,592.1L671.6,592.8L677.2,593.4L682.5,594.0" stroke="#008000" stroke-width="3.30" fill="none"/><path d="M698.2,595.7L699.5,595.9L705.1,596.5L710.7,597.1L714.2,597.4" stroke="#008000" stroke-width="9.94" fill="none"/><path d="M695.0,595.4L699.5,595.9L705.1,596.5L710.7,597.1L716.3,597.7L717.4,597.8" stroke="#008000" stroke-width="3.30" fill="none"/><path d="M733.1,599.4L733.2,599.4L738.8,599.9L744.4,600.5L749.1,600.9" stroke="#008000" stroke-width="9.95" fill="none"/><path d="M729.9,599.0L733.2,599.4L738.8,599.9L744.4,600.5L750.0,601.0L752.3,601.2" stroke="#008000" stroke-width="3.30" fill="none"/><path d="M768.0,602.7L772.5,603.1L778.1,603.6L783.8,604.2L784.0,604.2" stroke="#008000" stroke-width="9.96" fill="none"/><path d="M764.8,602.4L766.9,602.6L772.5,603.1L778.1,603.6L783.8,604.2L787.2,604.5" stroke="#008000" stroke-width="3.30" fill="none"/><path d="M802.9,605.8L806.3,606.1L811.9,606.6L817.5,607.0L818.9,607.1" stroke="#008000" stroke-width="9.97" fill="none"/><path d="M799.7,605.5L800.6,605.6L806.3,606.1L811.9,606.6L817.5,607.0L822.1,607.4" stroke="#008000" stroke-width="3.30" fill="none"/><path d="M837.8,608.6L840.0,608.8L845.6,609.2L851.3,609.6L853.8,609.8" stroke="#008000" stroke-width="9.97" fill="none"/><path d="M834.6,608.4L840.0,608.8L845.6,609.2L851.3,609.6L856.9,610.1L857.0,610.1" stroke="#008000" stroke-width="3.30" fill="none"/><path d="M872.7,611.2L873.8,611.3L879.4,611.6L885.0,612.0L888.7,612.3" stroke="#008000" stroke-width="9.98" fill="none"/><path d="M869.5,611.0L873.8,611.3L879.4,611.6L885.0,612.0L890.7,612.4L891.9,612.5" stroke="#008000" stroke-width="3.30" fill="none"/><path d="M907.6,613.5L913.2,613.8L918.8,614.1L923.6,614.4" stroke="#008000" stroke-width="9.98" fill="none"/><path d="M904.4,613.3L907.6,613.4L913.2,613.8L918.8,614.1L924.5,614.5L926.8,614.6" stroke="#008000" stroke-width="3.30" fill="none"/><path d="M942.5,615.4L947.0,615.7L952.6,616.0L958.2,616.3L958.5,616.3" stroke="#008000" stroke-width="9.99" fill="none"/><path d="M939.3,615.3L941.3,615.4L947.0,615.7L952.6,616.0L958.2,616.3L961.7,616.4" stroke="#008000" stroke-width="3.30" fill="none"/><path d="M977.4,617.2L980.8,617.3L986.4,617.6L992.0,617.8L993.4,617.9" stroke="#008000" stroke-width="9.99" fill="none"/><path d="M974.2,617.0L975.1,617.1L980.8,617.3L986.4,617.6L992.0,617.8L996.6,618.0" stroke="#008000" stroke-width="3.30" fill="none"/><path d="M1012.3,618.7L1014.5,618.8L1020.2,619.0L1025.8,619.2L1028.3,619.3" stroke="#008000" stroke-width="9.99" fill="none"/><path d="M1009.1,618.6L1014.5,618.8L1020.2,619.0L1025.8,619.2L1031.4,619.4L1031.5,619.4" stroke="#008000" stroke-width="3.30" fill="none"/><path d="M1047.2,620.0L1048.3,620.1L1053.9,620.3L1059.6,620.5L1063.2,620.6" stroke="#008000" stroke-width="9.99" fill="none"/><path d="M1044.0,619.9L1048.3,620.1L1053.9,620.3L1059.6,620.5L1065.2,620.7L1066.4,620.7" stroke="#008000" stroke-width="3.30" fill="none"/><path d="M1082.1,621.2L1087.7,621.4L1093.3,621.6L1098.1,621.7" stroke="#008000" stroke-width="9.99" fill="none"/><path d="M1078.9,621.1L1082.1,621.2L1087.7,621.4L1093.3,621.6L1098.9,621.8L1101.3,621.8" stroke="#008000" stroke-width="3.30" fill="none"/><path d="M1117.0,622.3L1121.4,622.4L1127.0,622.6L1132.6,622.8L1133.0,622.8" stroke="#008000" stroke-width="10.00" fill="none"/><path d="M1113.8,622.2L1115.8,622.3L1121.4,622.4L1127.0,622.6L1132.6,622.8L1136.2,622.9" stroke="#008000" stroke-width="3.30" fill="none"/><path d="M1151.9,623.4L1155.1,623.5L1160.7,623.6L1166.3,623.8L1167.9,623.8" stroke="#008000" stroke-width="10.00" fill="none"/><path d="M1148.7,623.3L1149.5,623.3L1155.1,623.5L1160.7,623.6L1166.3,623.8L1171.1,623.9" stroke="#008000" stroke-width="3.30" fill="none"/><path d="M1186.8,624.4L1188.7,624.5L1194.3,624.6L1199.9,624.8L1202.8,624.9" stroke="#008000" stroke-width="10.00" fill="none"/><path d="M1183.6,624.3L1188.7,624.5L1194.3,624.6L1199.9,624.8L1205.5,625.0L1206.0,625.0" stroke="#008000" stroke-width="3.30" fill="none"/><path d="M1221.7,625.4L1222.3,625.5L1227.9,625.6L1233.5,625.8L1237.7,625.9" stroke="#008000" stroke-width="10.00" fill="none"/><path d="M1218.5,625.4L1222.3,625.5L1227.9,625.6L1233.5,625.8L1239.1,626.0L1240.9,626.0" stroke="#008000" stroke-width="3.30" fill="none"/><path d="M1256.6,626.5L1261.5,626.7L1267.1,626.9L1272.6,627.1" stroke="#008000" stroke-width="9.99" fill="none"/><path d="M1253.4,626.4L1255.9,626.5L1261.5,626.7L1267.1,626.9L1272.7,627.1L1275.8,627.2" stroke="#008000" stroke-width="3.30" fill="none"/><path d="M1291.5,627.7L1295.0,627.8L1300.6,628.0L1306.2,628.2L1307.5,628.2" stroke="#008000" stroke-width="9.99" fill="none"/><path d="M1288.3,627.6L1289.4,627.6L1295.0,627.8L1300.6,628.0L1306.2,628.2L1310.7,628.4" stroke="#008000" stroke-width="3.30" fill="none"/><path d="M1326.4,628.9L1328.6,629.0L1334.1,629.2L1339.7,629.4L1342.4,629.5" stroke="#008000" stroke-width="9.99" fill="none"/><path d="M1323.2,628.8L1328.6,629.0L1334.1,629.2L1339.7,629.4L1345.3,629.6L1345.6,629.6" stroke="#008000" stroke-width="3.30" fill="none"/><path d="M1361.3,630.3L1362.1,630.3L1367.7,630.5L1373.3,630.7L1377.3,630.9" stroke="#008000" stroke-width="9.99" fill="none"/><path d="M1358.1,630.1L1362.1,630.3L1367.7,630.5L1373.3,630.7L1378.8,631.0L1380.5,631.0" stroke="#008000" stroke-width="3.30" fill="none"/><path d="M1396.2,631.7L1401.2,631.9L1406.8,632.2L1412.2,632.4" stroke="#008000" stroke-width="9.99" fill="none"/><path d="M1393.0,631.6L1395.6,631.7L1401.2,631.9L1406.8,632.2L1412.4,632.4L1415.4,632.6" stroke="#008000" stroke-width="3.30" fill="none"/><path d="M1431.1,633.3L1434.7,633.4L1440.3,633.7L1445.9,634.0L1447.1,634.0" stroke="#008000" stroke-width="9.99" fill="none"/><path d="M1427.9,633.1L1429.1,633.2L1434.7,633.4L1440.3,633.7L1445.9,634.0L1450.3,634.2" stroke="#008000" stroke-width="3.30" fill="none"/><path d="M1466.0,635.0L1468.3,635.1L1473.8,635.3L1479.4,635.6L1482.0,635.8" stroke="#008000" stroke-width="9.99" fill="none"/><path d="M1462.8,634.8L1468.3,635.1L1473.8,635.3L1479.4,635.6L1485.0,635.9L1485.2,635.9" stroke="#008000" stroke-width="3.30" fill="none"/><path d="M1500.9,636.7L1501.8,636.8L1507.4,637.1L1513.0,637.4L1516.9,637.6" stroke="#008000" stroke-width="9.99" fill="none"/><path d="M1497.7,636.6L1501.8,636.8L1507.4,637.1L1513.0,637.4L1518.6,637.7L1520.1,637.7" stroke="#008000" stroke-width="3.30" fill="none"/><path d="M1535.8,638.6L1540.9,638.9L1546.5,639.2L1551.8,639.4" stroke="#008000" stroke-width="9.99" fill="none"/><path d="M1532.6,638.4L1535.3,638.5L1540.9,638.9L1546.5,639.2L1552.1,639.5L1555.0,639.6" stroke="#008000" stroke-width="3.30" fill="none"/><path d="M1570.7,640.5L1574.5,640.7L1580.1,641.0L1585.7,641.3L1586.7,641.4" stroke="#008000" stroke-width="9.98" fill="none"/><path d="M1567.5,640.3L1568.9,640.4L1574.5,640.7L1580.1,641.0L1585.7,641.3L1589.9,641.5" stroke="#008000" stroke-width="3.30" fill="none"/><path d="M1605.6,642.4L1608.0,642.6L1613.6,642.9L1619.2,643.2L1621.6,643.3" stroke="#008000" stroke-width="9.98" fill="none"/><path d="M1602.4,642.2L1602.4,642.3L1608.0,642.6L1613.6,642.9L1619.2,643.2L1624.8,643.5L1624.8,643.5" stroke="#008000" stroke-width="3.30" fill="none"/><path d="M1640.5,644.4L1641.5,644.5L1647.0,644.8L1652.5,645.1L1656.5,645.3" stroke="#008000" stroke-width="9.98" fill="none"/><path d="M1637.3,644.2L1641.5,644.5L1647.0,644.8L1652.5,645.1L1657.9,645.4L1659.7,645.5" stroke="#008000" stroke-width="3.30" fill="none"/><path d="M1675.4,646.4L1679.5,646.6L1684.7,646.9L1690.0,647.2L1691.4,647.3" stroke="#008000" stroke-width="9.98" fill="none"/><path d="M1672.2,646.2L1674.1,646.3L1679.5,646.6L1684.7,646.9L1690.0,647.2L1694.6,647.5" stroke="#008000" stroke-width="3.30" fill="none"/><path d="M1710.3,648.4L1710.3,648.4L1715.2,648.7L1720.1,649.0L1724.9,649.3L1726.3,649.3" stroke="#008000" stroke-width="9.98" fill="none"/><path d="M1707.1,648.2L1710.3,648.4L1715.2,648.7L1720.1,649.0L1724.9,649.3L1729.5,649.5" stroke="#008000" stroke-width="3.30" fill="none"/><path d="M1745.2,650.4L1747.6,650.6L1751.9,650.8L1756.0,651.1L1760.1,651.3L1761.2,651.4" stroke="#008000" stroke-width="9.98" fill="none"/><path d="M1742.0,650.3L1743.2,650.3L1747.6,650.6L1751.9,650.8L1756.0,651.1L1760.1,651.3L1764.1,651.5L1764.4,651.6" stroke="#008000" stroke-width="3.30" fill="none"/><path d="M1780.1,652.5L1782.2,652.6L1785.5,652.8L1788.6,653.0L1791.6,653.1L1794.5,653.3L1796.1,653.4" stroke="#008000" stroke-width="9.98" fill="none"/><path d="M1776.9,652.3L1778.8,652.4L1782.2,652.6L1785.5,652.8L1788.6,653.0L1791.6,653.1L1794.5,653.3L1797.2,653.5L1799.3,653.6" stroke="#008000" stroke-width="3.30" fill="none"/><path d="M1815.0,654.5L1816.1,654.6L1817.6,654.7L1819.0,654.8L1820.3,654.8L1821.6,654.9L1822.7,655.0L1823.7,655.0L1824.7,655.1L1825.6,655.1L1826.4,655.2L1827.1,655.2L1827.8,655.3L1828.4,655.3L1828.9,655.3L1829.4,655.4L1829.8,655.4L1830.2,655.4L1830.5,655.4L1830.8,655.4L1831.0,655.5" stroke="#008000" stroke-width="9.98" fill="none"/><path d="M1811.8,654.3L1812.7,654.4L1814.4,654.5L1816.1,654.6L1817.6,654.7L1819.0,654.8L1820.3,654.8L1821.6,654.9L1822.7,655.0L1823.7,655.0L1824.7,655.1L1825.6,655.1L1826.4,655.2L1827.1,655.2L1827.8,655.3L1828.4,655.3L1828.9,655.3L1829.4,655.4L1829.8,655.4L1830.2,655.4L1830.5,655.4L1830.8,655.4L1831.0,655.5L1831.2,655.5L1831.4,655.5L1831.5,655.5L1831.6,655.5L1831.7,655.5L1831.7,655.5L1831.8,655.5" stroke="#008000" stroke-width="3.30" fill="none"/>
<path fill-rule="evenodd" d="M269.0,189.8L292.5,232.2L245.5,232.2ZM269.0,199.2L282.2,226.1L255.8,226.1Z" fill="#008000"/><path d="M269.0,199.2L282.2,226.1L255.8,226.1Z" fill="#fff"/>
<path fill-rule="evenodd" d="M299.3,330.9L322.8,373.1L275.8,373.1ZM299.3,340.2L312.6,367.0L286.1,367.0Z" fill="#008000"/><path d="M299.3,340.2L312.6,367.0L286.1,367.0Z" fill="#fff"/>
<path fill-rule="evenodd" d="M338.0,413.2L361.5,455.4L314.5,455.4ZM338.0,422.5L351.2,449.3L324.8,449.3Z" fill="#008000"/><path d="M338.0,422.5L351.2,449.3L324.8,449.3Z" fill="#fff"/>
<path fill-rule="evenodd" d="M412.0,495.5L435.5,537.8L388.5,537.8ZM412.0,504.8L425.2,531.6L398.8,531.6Z" fill="#008000"/><path d="M412.0,504.8L425.2,531.6L398.8,531.6Z" fill="#fff"/>
<path fill-rule="evenodd" d="M486.7,541.4L510.2,583.6L463.2,583.6ZM486.7,550.6L499.9,577.5L473.4,577.5Z" fill="#008000"/><path d="M486.7,550.6L499.9,577.5L473.4,577.5Z" fill="#fff"/>
<path fill-rule="evenodd" d="M710.5,571.1L734.0,613.4L687.0,613.4ZM710.5,580.4L723.8,607.3L697.2,607.3Z" fill="#008000"/><path d="M710.5,580.4L723.8,607.3L697.2,607.3Z" fill="#fff"/>
<path fill-rule="evenodd" d="M935.7,587.5L959.2,629.8L912.2,629.8ZM935.7,596.8L949.0,623.6L922.5,623.6Z" fill="#008000"/><path d="M935.7,596.8L949.0,623.6L922.5,623.6Z" fill="#fff"/>
<path fill-rule="evenodd" d="M1161.0,594.1L1184.5,636.4L1137.5,636.4ZM1161.0,603.4L1174.2,630.2L1147.8,630.2Z" fill="#008000"/><path d="M1161.0,603.4L1174.2,630.2L1147.8,630.2Z" fill="#fff"/>
<path fill-rule="evenodd" d="M1384.4,600.4L1407.9,642.6L1360.9,642.6ZM1384.4,609.6L1397.7,636.5L1371.2,636.5Z" fill="#008000"/><path d="M1384.4,609.6L1397.7,636.5L1371.2,636.5Z" fill="#fff"/>
<path fill-rule="evenodd" d="M1608.0,613.8L1631.5,656.0L1584.5,656.0ZM1608.0,623.0L1621.2,649.9L1594.8,649.9Z" fill="#008000"/><path d="M1608.0,623.0L1621.2,649.9L1594.8,649.9Z" fill="#fff"/>
<path fill-rule="evenodd" d="M1831.8,626.6L1855.3,668.9L1808.3,668.9ZM1831.8,635.9L1845.0,662.8L1818.5,662.8Z" fill="#008000"/><path d="M1831.8,635.9L1845.0,662.8L1818.5,662.8Z" fill="#fff"/>
<path d="M262.1,72.3L262.2,73.7L262.2,76.2L262.3,78.9L262.4,81.7L262.6,84.6L262.7,87.7L262.7,88.3" stroke="#ff0000" stroke-width="9.99" fill="none"/><path d="M262.0,69.1L262.1,71.3L262.2,73.7L262.2,76.2L262.3,78.9L262.4,81.7L262.6,84.6L262.7,87.7L262.8,90.8L262.8,91.5" stroke="#ff0000" stroke-width="3.30" fill="none"/><path d="M263.4,107.2L263.5,108.2L263.6,112.0L263.8,115.8L263.9,119.7L264.1,123.2" stroke="#ff0000" stroke-width="9.99" fill="none"/><path d="M263.3,104.0L263.3,104.5L263.5,108.2L263.6,112.0L263.8,115.8L263.9,119.7L264.1,123.8L264.2,126.4" stroke="#ff0000" stroke-width="3.30" fill="none"/><path d="M265.0,142.1L265.1,144.9L265.4,149.3L265.6,153.8L265.8,158.1" stroke="#ff0000" stroke-width="9.99" fill="none"/><path d="M264.8,138.9L264.9,140.5L265.1,144.9L265.4,149.3L265.6,153.8L265.8,158.3L266.0,161.3" stroke="#ff0000" stroke-width="3.30" fill="none"/><path d="M266.9,177.0L267.2,181.5L267.5,186.3L267.8,191.0L268.0,193.0" stroke="#ff0000" stroke-width="9.98" fill="none"/><path d="M266.7,173.8L266.9,176.8L267.2,181.5L267.5,186.3L267.8,191.0L268.2,195.8L268.2,196.2" stroke="#ff0000" stroke-width="3.30" fill="none"/><path d="M269.4,211.9L269.6,215.0L270.0,219.8L270.4,224.6L270.7,227.9" stroke="#ff0000" stroke-width="9.97" fill="none"/><path d="M269.1,208.7L269.2,210.2L269.6,215.0L270.0,219.8L270.4,224.6L270.8,229.4L270.9,231.1" stroke="#ff0000" stroke-width="3.30" fill="none"/><path d="M272.4,246.8L272.6,248.5L273.1,253.2L273.6,257.9L274.1,262.6L274.1,262.8" stroke="#ff0000" stroke-width="9.95" fill="none"/><path d="M272.1,243.6L272.1,243.8L272.6,248.5L273.1,253.2L273.6,257.9L274.1,262.6L274.4,266.0" stroke="#ff0000" stroke-width="3.30" fill="none"/><path d="M276.3,281.7L276.8,285.5L277.3,290.0L277.9,294.5L278.4,297.7" stroke="#ff0000" stroke-width="9.92" fill="none"/><path d="M275.9,278.5L276.2,281.0L276.8,285.5L277.3,290.0L277.9,294.5L278.5,298.9L278.8,300.9" stroke="#ff0000" stroke-width="3.30" fill="none"/><path d="M281.1,316.6L281.7,320.8L282.4,325.1L283.0,329.4L283.6,332.6" stroke="#ff0000" stroke-width="9.88" fill="none"/><path d="M280.6,313.4L281.1,316.5L281.7,320.8L282.4,325.1L283.0,329.4L283.7,333.6L284.1,335.8" stroke="#ff0000" stroke-width="3.30" fill="none"/><path d="M286.8,351.5L287.3,354.4L288.0,358.5L288.8,362.5L289.5,366.5L289.7,367.5" stroke="#ff0000" stroke-width="9.83" fill="none"/><path d="M286.2,348.3L286.6,350.3L287.3,354.4L288.0,358.5L288.8,362.5L289.5,366.5L290.3,370.5L290.3,370.7" stroke="#ff0000" stroke-width="3.30" fill="none"/><path d="M293.5,386.4L294.2,389.9L295.0,393.6L295.8,397.4L296.6,401.1L296.9,402.4" stroke="#ff0000" stroke-width="9.78" fill="none"/><path d="M292.8,383.2L293.4,386.1L294.2,389.9L295.0,393.6L295.8,397.4L296.6,401.1L297.5,404.8L297.7,405.6" stroke="#ff0000" stroke-width="3.30" fill="none"/><path d="M301.3,421.3L301.7,422.7L302.5,426.2L303.4,429.6L304.3,433.1L305.2,436.4L305.4,437.3" stroke="#ff0000" stroke-width="9.69" fill="none"/><path d="M300.6,418.1L300.8,419.2L301.7,422.7L302.5,426.2L303.4,429.6L304.3,433.1L305.2,436.4L306.0,439.8L306.2,440.5" stroke="#ff0000" stroke-width="3.30" fill="none"/><path d="M310.7,456.2L311.6,459.2L312.5,462.3L313.5,465.4L314.5,468.4L315.5,471.4L315.8,472.2" stroke="#ff0000" stroke-width="9.53" fill="none"/><path d="M309.7,453.0L310.6,456.0L311.6,459.2L312.5,462.3L313.5,465.4L314.5,468.4L315.5,471.4L316.5,474.4L316.9,475.4" stroke="#ff0000" stroke-width="3.30" fill="none"/><path d="M322.7,491.1L322.9,491.6L324.0,494.3L325.1,497.1L326.3,499.7L327.4,502.4L328.6,505.0L329.6,507.1" stroke="#ff0000" stroke-width="9.18" fill="none"/><path d="M321.4,487.9L321.8,488.8L322.9,491.6L324.0,494.3L325.1,497.1L326.3,499.7L327.4,502.4L328.6,505.0L329.8,507.6L331.0,510.2L331.1,510.3" stroke="#ff0000" stroke-width="3.30" fill="none"/><path d="M339.5,526.0L340.1,527.1L341.5,529.4L342.9,531.7L344.4,533.9L345.8,536.1L347.3,538.3L348.8,540.5L349.9,542.0" stroke="#ff0000" stroke-width="8.38" fill="none"/><path d="M337.6,522.8L338.8,524.8L340.1,527.1L341.5,529.4L342.9,531.7L344.4,533.9L345.8,536.1L347.3,538.3L348.8,540.5L350.3,542.6L351.8,544.7L352.2,545.2" stroke="#ff0000" stroke-width="3.30" fill="none"/><path d="M365.0,560.9L366.4,562.4L368.1,564.3L369.8,566.1L371.5,568.0L373.2,569.8L375.0,571.6L376.7,573.4L378.5,575.2L380.2,576.9" stroke="#ff0000" stroke-width="7.26" fill="none"/><path d="M362.2,557.7L363.0,558.6L364.7,560.5L366.4,562.4L368.1,564.3L369.8,566.1L371.5,568.0L373.2,569.8L375.0,571.6L376.7,573.4L378.5,575.2L380.2,576.9L382.0,578.7L383.4,580.0" stroke="#ff0000" stroke-width="3.30" fill="none"/><path d="M399.1,594.9L400.2,595.9L402.1,597.6L403.9,599.3L405.8,601.0L407.6,602.7L409.5,604.4L411.3,606.1L413.2,607.8L415.0,609.5L415.1,609.6" stroke="#ff0000" stroke-width="7.36" fill="none"/><path d="M395.9,591.9L396.5,592.5L398.4,594.2L400.2,595.9L402.1,597.6L403.9,599.3L405.8,601.0L407.6,602.7L409.5,604.4L411.3,606.1L413.2,607.8L415.0,609.5L416.9,611.2L418.3,612.5" stroke="#ff0000" stroke-width="3.30" fill="none"/><path d="M434.0,626.6L434.4,627.0L436.5,628.8L438.6,630.6L440.7,632.4L442.9,634.2L445.1,636.0L447.4,637.9L449.7,639.7L450.0,640.0" stroke="#ff0000" stroke-width="7.67" fill="none"/><path d="M430.8,623.8L432.4,625.2L434.4,627.0L436.5,628.8L438.6,630.6L440.7,632.4L442.9,634.2L445.1,636.0L447.4,637.9L449.7,639.7L452.1,641.6L453.2,642.5" stroke="#ff0000" stroke-width="3.30" fill="none"/><path d="M468.9,654.3L470.0,655.1L472.9,657.1L475.7,659.1L478.7,661.1L481.7,663.2L484.8,665.2L484.9,665.3" stroke="#ff0000" stroke-width="8.24" fill="none"/><path d="M465.7,652.0L467.3,653.1L470.0,655.1L472.9,657.1L475.7,659.1L478.7,661.1L481.7,663.2L484.8,665.2L488.0,667.3L488.1,667.4" stroke="#ff0000" stroke-width="3.30" fill="none"/><path d="M503.8,677.2L505.2,678.0L508.9,680.2L512.7,682.4L516.5,684.7L519.8,686.5" stroke="#ff0000" stroke-width="8.63" fill="none"/><path d="M500.6,675.2L501.6,675.8L505.2,678.0L508.9,680.2L512.7,682.4L516.5,684.7L520.5,686.9L523.0,688.3" stroke="#ff0000" stroke-width="3.30" fill="none"/><path d="M538.7,696.9L541.6,698.4L546.1,700.8L550.6,703.1L554.7,705.1" stroke="#ff0000" stroke-width="8.88" fill="none"/><path d="M535.5,695.2L537.3,696.1L541.6,698.4L546.1,700.8L550.6,703.1L555.2,705.4L557.9,706.7" stroke="#ff0000" stroke-width="3.30" fill="none"/><path d="M573.6,714.4L574.3,714.7L579.2,717.0L584.2,719.3L589.2,721.6L589.6,721.7" stroke="#ff0000" stroke-width="9.08" fill="none"/><path d="M570.4,712.8L574.3,714.7L579.2,717.0L584.2,719.3L589.2,721.6L592.8,723.2" stroke="#ff0000" stroke-width="3.30" fill="none"/><path d="M608.5,729.9L609.9,730.5L615.1,732.7L620.4,734.9L624.5,736.5" stroke="#ff0000" stroke-width="9.26" fill="none"/><path d="M605.3,728.6L609.9,730.5L615.1,732.7L620.4,734.9L625.8,737.0L627.7,737.7" stroke="#ff0000" stroke-width="3.30" fill="none"/><path d="M643.4,743.7L647.5,745.2L652.9,747.1L658.5,749.0L659.4,749.4" stroke="#ff0000" stroke-width="9.43" fill="none"/><path d="M640.2,742.5L642.0,743.2L647.5,745.2L652.9,747.1L658.5,749.0L662.6,750.4" stroke="#ff0000" stroke-width="3.30" fill="none"/><path d="M678.3,755.5L680.7,756.2L686.3,757.9L691.9,759.6L694.3,760.2" stroke="#ff0000" stroke-width="9.59" fill="none"/><path d="M675.1,754.5L675.1,754.5L680.7,756.2L686.3,757.9L691.9,759.6L697.5,761.1L697.5,761.1" stroke="#ff0000" stroke-width="3.30" fill="none"/><path d="M713.2,765.2L714.3,765.5L719.9,766.8L725.5,768.1L729.2,768.9" stroke="#ff0000" stroke-width="9.74" fill="none"/><path d="M710.0,764.4L714.3,765.5L719.9,766.8L725.5,768.1L731.1,769.3L732.4,769.6" stroke="#ff0000" stroke-width="3.30" fill="none"/><path d="M748.1,772.7L753.5,773.7L759.2,774.6L764.1,775.4" stroke="#ff0000" stroke-width="9.85" fill="none"/><path d="M744.9,772.1L747.9,772.7L753.5,773.7L759.2,774.6L764.8,775.6L767.3,776.0" stroke="#ff0000" stroke-width="3.30" fill="none"/><path d="M783.0,778.2L787.2,778.8L792.8,779.5L798.4,780.2L799.0,780.3" stroke="#ff0000" stroke-width="9.92" fill="none"/><path d="M779.8,777.8L781.6,778.0L787.2,778.8L792.8,779.5L798.4,780.2L802.2,780.6" stroke="#ff0000" stroke-width="3.30" fill="none"/><path d="M817.9,782.3L820.8,782.5L826.3,783.1L831.9,783.6L833.9,783.7" stroke="#ff0000" stroke-width="9.96" fill="none"/><path d="M814.7,782.0L815.2,782.0L820.8,782.5L826.3,783.1L831.9,783.6L837.1,784.0" stroke="#ff0000" stroke-width="3.30" fill="none"/><path d="M852.8,785.2L854.3,785.3L859.9,785.7L865.5,786.1L868.8,786.3" stroke="#ff0000" stroke-width="9.98" fill="none"/><path d="M849.6,785.0L854.3,785.3L859.9,785.7L865.5,786.1L871.1,786.4L872.0,786.5" stroke="#ff0000" stroke-width="3.30" fill="none"/><path d="M887.7,787.4L888.0,787.4L893.6,787.7L899.2,788.0L903.7,788.3" stroke="#ff0000" stroke-width="9.98" fill="none"/><path d="M884.5,787.2L888.0,787.4L893.6,787.7L899.2,788.0L904.8,788.3L906.9,788.5" stroke="#ff0000" stroke-width="3.30" fill="none"/><path d="M922.6,789.3L927.2,789.6L932.8,789.9L938.4,790.2L938.6,790.2" stroke="#ff0000" stroke-width="9.98" fill="none"/><path d="M919.4,789.1L921.6,789.3L927.2,789.6L932.8,789.9L938.4,790.2L941.8,790.4" stroke="#ff0000" stroke-width="3.30" fill="none"/><path d="M957.5,791.3L960.9,791.5L966.5,791.9L972.1,792.2L973.5,792.3" stroke="#ff0000" stroke-width="9.98" fill="none"/><path d="M954.3,791.1L955.2,791.2L960.9,791.5L966.5,791.9L972.1,792.2L976.7,792.5" stroke="#ff0000" stroke-width="3.30" fill="none"/><path d="M992.4,793.6L994.6,793.8L1000.2,794.2L1005.8,794.6L1008.4,794.8" stroke="#ff0000" stroke-width="9.97" fill="none"/><path d="M989.2,793.4L994.6,793.8L1000.2,794.2L1005.8,794.6L1011.4,795.0L1011.6,795.0" stroke="#ff0000" stroke-width="3.30" fill="none"/><path d="M1027.3,796.3L1028.3,796.4L1033.9,796.9L1039.5,797.4L1043.3,797.7" stroke="#ff0000" stroke-width="9.96" fill="none"/><path d="M1024.1,796.0L1028.3,796.4L1033.9,796.9L1039.5,797.4L1045.2,797.9L1046.5,798.0" stroke="#ff0000" stroke-width="3.30" fill="none"/><path d="M1062.2,799.5L1067.6,800.1L1073.3,800.6L1078.2,801.2" stroke="#ff0000" stroke-width="9.95" fill="none"/><path d="M1059.0,799.2L1062.0,799.5L1067.6,800.1L1073.3,800.6L1078.9,801.2L1081.4,801.5" stroke="#ff0000" stroke-width="3.30" fill="none"/><path d="M1097.1,803.3L1101.4,803.8L1107.0,804.5L1112.6,805.2L1113.1,805.3" stroke="#ff0000" stroke-width="9.92" fill="none"/><path d="M1093.9,802.9L1095.8,803.2L1101.4,803.8L1107.0,804.5L1112.6,805.2L1116.3,805.7" stroke="#ff0000" stroke-width="3.30" fill="none"/><path d="M1132.0,807.8L1135.1,808.3L1140.7,809.1L1146.3,809.9L1148.0,810.2" stroke="#ff0000" stroke-width="9.89" fill="none"/><path d="M1128.8,807.4L1129.5,807.5L1135.1,808.3L1140.7,809.1L1146.3,809.9L1151.2,810.7" stroke="#ff0000" stroke-width="3.30" fill="none"/><path d="M1166.9,813.2L1168.8,813.5L1174.4,814.4L1180.0,815.4L1182.9,815.9" stroke="#ff0000" stroke-width="9.86" fill="none"/><path d="M1163.7,812.7L1168.8,813.5L1174.4,814.4L1180.0,815.4L1185.6,816.4L1186.1,816.5" stroke="#ff0000" stroke-width="3.30" fill="none"/><path d="M1201.8,819.3L1202.4,819.4L1208.0,820.5L1213.6,821.6L1217.8,822.3" stroke="#ff0000" stroke-width="9.83" fill="none"/><path d="M1198.6,818.7L1202.4,819.4L1208.0,820.5L1213.6,821.6L1219.2,822.6L1221.0,823.0" stroke="#ff0000" stroke-width="3.30" fill="none"/><path d="M1236.7,826.0L1241.7,827.0L1247.3,828.1L1252.7,829.2" stroke="#ff0000" stroke-width="9.81" fill="none"/><path d="M1233.5,825.4L1236.1,825.9L1241.7,827.0L1247.3,828.1L1252.9,829.2L1255.9,829.8" stroke="#ff0000" stroke-width="3.30" fill="none"/><path d="M1271.6,833.0L1275.3,833.7L1280.8,834.8L1286.4,835.9L1287.6,836.1" stroke="#ff0000" stroke-width="9.81" fill="none"/><path d="M1268.4,832.3L1269.7,832.6L1275.3,833.7L1280.8,834.8L1286.4,835.9L1290.8,836.8" stroke="#ff0000" stroke-width="3.30" fill="none"/><path d="M1306.5,839.9L1308.8,840.3L1314.4,841.4L1320.0,842.5L1322.5,843.0" stroke="#ff0000" stroke-width="9.82" fill="none"/><path d="M1303.3,839.2L1308.8,840.3L1314.4,841.4L1320.0,842.5L1325.6,843.5L1325.7,843.6" stroke="#ff0000" stroke-width="3.30" fill="none"/><path d="M1341.4,846.5L1342.4,846.6L1348.0,847.7L1353.5,848.6L1357.4,849.3" stroke="#ff0000" stroke-width="9.85" fill="none"/><path d="M1338.2,845.9L1342.4,846.6L1348.0,847.7L1353.5,848.6L1359.1,849.6L1360.6,849.9" stroke="#ff0000" stroke-width="3.30" fill="none"/><path d="M1376.3,852.5L1381.5,853.3L1387.1,854.1L1392.3,854.9" stroke="#ff0000" stroke-width="9.88" fill="none"/><path d="M1373.1,851.9L1375.9,852.4L1381.5,853.3L1387.1,854.1L1392.7,855.0L1395.5,855.4" stroke="#ff0000" stroke-width="3.30" fill="none"/><path d="M1411.2,857.6L1415.0,858.1L1420.6,858.8L1426.2,859.5L1427.2,859.7" stroke="#ff0000" stroke-width="9.92" fill="none"/><path d="M1408.0,857.2L1409.4,857.4L1415.0,858.1L1420.6,858.8L1426.2,859.5L1430.4,860.1" stroke="#ff0000" stroke-width="3.30" fill="none"/><path d="M1446.1,861.9L1448.5,862.2L1454.1,862.8L1459.7,863.4L1462.1,863.6" stroke="#ff0000" stroke-width="9.94" fill="none"/><path d="M1442.9,861.5L1442.9,861.5L1448.5,862.2L1454.1,862.8L1459.7,863.4L1465.3,863.9L1465.3,863.9" stroke="#ff0000" stroke-width="3.30" fill="none"/><path d="M1481.0,865.5L1482.0,865.6L1487.6,866.1L1493.2,866.6L1497.0,866.9" stroke="#ff0000" stroke-width="9.96" fill="none"/><path d="M1477.8,865.2L1482.0,865.6L1487.6,866.1L1493.2,866.6L1498.8,867.0L1500.2,867.2" stroke="#ff0000" stroke-width="3.30" fill="none"/><path d="M1515.9,868.4L1521.2,868.8L1526.8,869.2L1531.9,869.6" stroke="#ff0000" stroke-width="9.97" fill="none"/><path d="M1512.7,868.2L1515.6,868.4L1521.2,868.8L1526.8,869.2L1532.4,869.6L1535.1,869.8" stroke="#ff0000" stroke-width="3.30" fill="none"/><path d="M1550.8,870.9L1554.7,871.1L1560.4,871.5L1566.0,871.8L1566.8,871.8" stroke="#ff0000" stroke-width="9.98" fill="none"/><path d="M1547.6,870.7L1549.1,870.8L1554.7,871.1L1560.4,871.5L1566.0,871.8L1570.0,872.0" stroke="#ff0000" stroke-width="3.30" fill="none"/><path d="M1585.7,872.9L1588.4,873.1L1594.0,873.4L1599.6,873.6L1601.7,873.8" stroke="#ff0000" stroke-width="9.99" fill="none"/><path d="M1582.5,872.7L1582.8,872.8L1588.4,873.1L1594.0,873.4L1599.6,873.6L1604.9,873.9" stroke="#ff0000" stroke-width="3.30" fill="none"/><path d="M1620.6,874.7L1622.1,874.8L1627.7,875.0L1633.3,875.3L1636.6,875.4" stroke="#ff0000" stroke-width="9.99" fill="none"/><path d="M1617.4,874.5L1622.1,874.8L1627.7,875.0L1633.3,875.3L1638.8,875.5L1639.8,875.6" stroke="#ff0000" stroke-width="3.30" fill="none"/><path d="M1655.5,876.3L1660.9,876.5L1666.4,876.7L1671.5,876.9" stroke="#ff0000" stroke-width="9.99" fill="none"/><path d="M1652.3,876.1L1655.4,876.3L1660.9,876.5L1666.4,876.7L1671.8,876.9L1674.7,877.1" stroke="#ff0000" stroke-width="3.30" fill="none"/><path d="M1690.4,877.7L1692.9,877.8L1698.1,878.0L1703.2,878.2L1706.4,878.3" stroke="#ff0000" stroke-width="9.99" fill="none"/><path d="M1687.2,877.5L1687.7,877.6L1692.9,877.8L1698.1,878.0L1703.2,878.2L1708.2,878.3L1709.6,878.4" stroke="#ff0000" stroke-width="3.30" fill="none"/><path d="M1725.3,879.0L1727.7,879.0L1732.4,879.2L1737.0,879.4L1741.3,879.5" stroke="#ff0000" stroke-width="9.99" fill="none"/><path d="M1722.1,878.8L1722.9,878.9L1727.7,879.0L1732.4,879.2L1737.0,879.4L1741.5,879.5L1744.5,879.6" stroke="#ff0000" stroke-width="3.30" fill="none"/><path d="M1760.2,880.1L1762.5,880.2L1766.4,880.3L1770.2,880.4L1773.9,880.6L1776.2,880.6" stroke="#ff0000" stroke-width="10.00" fill="none"/><path d="M1757.0,880.0L1758.5,880.1L1762.5,880.2L1766.4,880.3L1770.2,880.4L1773.9,880.6L1777.4,880.7L1779.4,880.7" stroke="#ff0000" stroke-width="3.30" fill="none"/><path d="M1795.1,881.2L1796.0,881.2L1798.7,881.3L1801.1,881.4L1803.5,881.5L1805.7,881.5L1807.8,881.6L1809.8,881.7L1811.1,881.7" stroke="#ff0000" stroke-width="10.00" fill="none"/><path d="M1791.9,881.1L1793.3,881.1L1796.0,881.2L1798.7,881.3L1801.1,881.4L1803.5,881.5L1805.7,881.5L1807.8,881.6L1809.8,881.7L1811.7,881.7L1813.4,881.8L1814.3,881.8" stroke="#ff0000" stroke-width="3.30" fill="none"/><path d="M1830.0,882.3L1830.2,882.3L1830.4,882.3L1830.6,882.3L1830.7,882.3L1830.8,882.3L1830.9,882.3L1830.9,882.3L1831.0,882.3" stroke="#ff0000" stroke-width="10.00" fill="none"/><path d="M1826.8,882.2L1827.0,882.2L1827.6,882.2L1828.1,882.2L1828.6,882.2L1829.0,882.2L1829.4,882.3L1829.7,882.3L1830.0,882.3L1830.2,882.3L1830.4,882.3L1830.6,882.3L1830.7,882.3L1830.8,882.3L1830.9,882.3L1830.9,882.3L1831.0,882.3" stroke="#ff0000" stroke-width="3.30" fill="none"/>
<rect x="245.0" y="27.0" width="29" height="29" fill="#fff" stroke="#ff0000" stroke-width="6"/>
<rect x="254.0" y="235.5" width="29" height="29" fill="#fff" stroke="#ff0000" stroke-width="6"/>
<rect x="283.2" y="406.6" width="29" height="29" fill="#fff" stroke="#ff0000" stroke-width="6"/>
<rect x="321.0" y="523.5" width="29" height="29" fill="#fff" stroke="#ff0000" stroke-width="6"/>
<rect x="394.9" y="589.0" width="29" height="29" fill="#fff" stroke="#ff0000" stroke-width="6"/>
<rect x="469.2" y="659.5" width="29" height="29" fill="#fff" stroke="#ff0000" stroke-width="6"/>
<rect x="694.5" y="763.5" width="29" height="29" fill="#fff" stroke="#ff0000" stroke-width="6"/>
<rect x="918.0" y="771.8" width="29" height="29" fill="#fff" stroke="#ff0000" stroke-width="6"/>
<rect x="1143.3" y="788.3" width="29" height="29" fill="#fff" stroke="#ff0000" stroke-width="6"/>
<rect x="1367.1" y="843.6" width="29" height="29" fill="#fff" stroke="#ff0000" stroke-width="6"/>
<rect x="1590.2" y="858.6" width="29" height="29" fill="#fff" stroke="#ff0000" stroke-width="6"/>
<rect x="1816.5" y="865.5" width="29" height="29" fill="#fff" stroke="#ff0000" stroke-width="6"/>
</g>
<g fill="#000">
<rect x="260" y="19" width="1575" height="6.2"/>
<rect x="260" y="1290.8" width="1575" height="6.2"/>
<rect x="260" y="19" width="6.4" height="1278"/>
<rect x="1828.8" y="19" width="6.2" height="1278"/>
<rect x="237" y="38.4" width="24" height="6.2"/>
<rect x="237" y="455.9" width="24" height="6.2"/>
<rect x="237" y="873.4" width="24" height="6.2"/>
<rect x="237" y="1290.9" width="24" height="6.2"/>
<rect x="250" y="245.9" width="11" height="6.2"/>
<rect x="250" y="665.9" width="11" height="6.2"/>
<rect x="250" y="1083.4" width="11" height="6.2"/>
<rect x="260.0" y="1294" width="6.6" height="29.4"/>
<rect x="631.6" y="1294" width="6.6" height="29.4"/>
<rect x="1005.5" y="1294" width="6.6" height="29.4"/>
<rect x="1379.3" y="1294" width="6.6" height="29.4"/>
<rect x="1753.2" y="1294" width="6.6" height="29.4"/>
</g>
<text x="125.00" y="54.80" font-size="55" textLength="99.78" lengthAdjust="spacingAndGlyphs">100</text>
<text x="159.00" y="471.20" font-size="55" textLength="64.58" lengthAdjust="spacingAndGlyphs">80</text>
<text x="158.00" y="889.00" font-size="55" textLength="65.68" lengthAdjust="spacingAndGlyphs">60</text>
<text x="160.00" y="1309.60" font-size="55" textLength="62.30" lengthAdjust="spacingAndGlyphs">40</text>
<text x="247.50" y="1382.40" font-size="55" textLength="30.72" lengthAdjust="spacingAndGlyphs">0</text>
<text x="604.50" y="1382.40" font-size="55" textLength="66.25" lengthAdjust="spacingAndGlyphs">50</text>
<text x="959.50" y="1382.40" font-size="55" textLength="101.57" lengthAdjust="spacingAndGlyphs">100</text>
<text x="1334.50" y="1382.40" font-size="55" textLength="98.14" lengthAdjust="spacingAndGlyphs">150</text>
<text x="1710.50" y="1382.40" font-size="55" textLength="95.90" lengthAdjust="spacingAndGlyphs">200</text>
<text class="b" x="614.80" y="1512.80" font-size="77" textLength="383.36" lengthAdjust="spacingAndGlyphs">Sonication</text>
<text class="b" x="1018.50" y="1512.80" font-size="77" textLength="171.51" lengthAdjust="spacingAndGlyphs">time</text>
<text class="b" x="1206.00" y="1512.80" font-size="77" textLength="197.03" lengthAdjust="spacingAndGlyphs">(min)</text>
<text class="b" transform="translate(88.80,896.50) rotate(-90)" x="0" y="0" font-size="77" textLength="363.98" lengthAdjust="spacingAndGlyphs">Retention</text>
<text class="b" transform="translate(88.80,514.00) rotate(-90)" x="0" y="0" font-size="77" textLength="118.20" lengthAdjust="spacingAndGlyphs">(%)</text>
<text x="479.00" y="915.40" font-size="55" textLength="180.39" lengthAdjust="spacingAndGlyphs">Pt,CeO</text>
<text x="652.70" y="943.40" font-size="37" textLength="24.97" lengthAdjust="spacingAndGlyphs">2</text>
<text x="671.70" y="915.40" font-size="55" textLength="173.48" lengthAdjust="spacingAndGlyphs">-20M3</text>
<text x="479.00" y="1022.80" font-size="55" textLength="180.39" lengthAdjust="spacingAndGlyphs">Pt,CeO</text>
<text x="652.70" y="1050.80" font-size="37" textLength="24.97" lengthAdjust="spacingAndGlyphs">2</text>
<text x="671.70" y="1022.80" font-size="55" textLength="173.48" lengthAdjust="spacingAndGlyphs">-30M3</text>
<text x="479.00" y="1129.20" font-size="55" textLength="180.39" lengthAdjust="spacingAndGlyphs">Pt,CeO</text>
<text x="652.70" y="1157.20" font-size="37" textLength="24.97" lengthAdjust="spacingAndGlyphs">2</text>
<text x="676.30" y="1131.90" font-size="65.44787252066172" textLength="26.89" lengthAdjust="spacingAndGlyphs">*</text>
<text x="703.80" y="1129.20" font-size="55" textLength="174.27" lengthAdjust="spacingAndGlyphs">-20M3</text>
<text x="479.00" y="1236.60" font-size="55" textLength="180.39" lengthAdjust="spacingAndGlyphs">Pt,CeO</text>
<text x="652.70" y="1264.60" font-size="37" textLength="24.97" lengthAdjust="spacingAndGlyphs">2</text>
<text x="676.30" y="1238.90" font-size="65.44787252066172" textLength="26.89" lengthAdjust="spacingAndGlyphs">*</text>
<text x="703.80" y="1236.60" font-size="55" textLength="174.27" lengthAdjust="spacingAndGlyphs">-30M3</text>
<line x1="309.1" y1="894.5" x2="361.9" y2="894.5" stroke="#008000" stroke-width="9.8"/><line x1="305.8" y1="894.5" x2="365.1" y2="894.5" stroke="#008000" stroke-width="3.3"/>
<line x1="414.4" y1="894.5" x2="467" y2="894.5" stroke="#008000" stroke-width="9.8"/><line x1="411" y1="894.5" x2="470.4" y2="894.5" stroke="#008000" stroke-width="3.3"/>
<path d="M388,866.1L411,909.7L365,909.7Z" fill="#008000"/>
<line x1="309.1" y1="1003.0" x2="361.9" y2="1003.0" stroke="#ff0000" stroke-width="9.8"/><line x1="305.8" y1="1003.0" x2="365.1" y2="1003.0" stroke="#ff0000" stroke-width="3.3"/>
<line x1="414.4" y1="1003.0" x2="467" y2="1003.0" stroke="#ff0000" stroke-width="9.8"/><line x1="411" y1="1003.0" x2="470.4" y2="1003.0" stroke="#ff0000" stroke-width="3.3"/>
<rect x="368.4" y="985" width="36.2" height="32.8" fill="#ff0000"/>
<line x1="309.3" y1="1111.3" x2="325.5" y2="1111.3" stroke="#008000" stroke-width="10"/><line x1="306.1" y1="1111.3" x2="328.7" y2="1111.3" stroke="#008000" stroke-width="3.3"/><line x1="345.5" y1="1111.3" x2="358.5" y2="1111.3" stroke="#008000" stroke-width="10"/><line x1="342.3" y1="1111.3" x2="361.7" y2="1111.3" stroke="#008000" stroke-width="3.3"/><line x1="415.2" y1="1111.3" x2="430.4" y2="1111.3" stroke="#008000" stroke-width="10"/><line x1="412.0" y1="1111.3" x2="433.6" y2="1111.3" stroke="#008000" stroke-width="3.3"/><line x1="447.5" y1="1111.3" x2="463.7" y2="1111.3" stroke="#008000" stroke-width="10"/><line x1="444.3" y1="1111.3" x2="466.9" y2="1111.3" stroke="#008000" stroke-width="3.3"/>
<path fill-rule="evenodd" d="M388.0,1083.0L411.0,1126.0L365.0,1126.0ZM388.0,1092.3L401.2,1119.9L374.8,1119.9Z" fill="#008000"/><path d="M388.0,1092.3L401.2,1119.9L374.8,1119.9Z" fill="#fff"/>
<line x1="309.3" y1="1219.8" x2="325.5" y2="1219.8" stroke="#ff0000" stroke-width="10"/><line x1="306.1" y1="1219.8" x2="328.7" y2="1219.8" stroke="#ff0000" stroke-width="3.3"/><line x1="345.5" y1="1219.8" x2="358.5" y2="1219.8" stroke="#ff0000" stroke-width="10"/><line x1="342.3" y1="1219.8" x2="361.7" y2="1219.8" stroke="#ff0000" stroke-width="3.3"/><line x1="415.2" y1="1219.8" x2="430.4" y2="1219.8" stroke="#ff0000" stroke-width="10"/><line x1="412.0" y1="1219.8" x2="433.6" y2="1219.8" stroke="#ff0000" stroke-width="3.3"/><line x1="447.5" y1="1219.8" x2="463.7" y2="1219.8" stroke="#ff0000" stroke-width="10"/><line x1="444.3" y1="1219.8" x2="466.9" y2="1219.8" stroke="#ff0000" stroke-width="3.3"/>
<rect x="371.4" y="1201.2" width="27" height="27" fill="#fff" stroke="#ff0000" stroke-width="6"/>
</svg></body></html>
